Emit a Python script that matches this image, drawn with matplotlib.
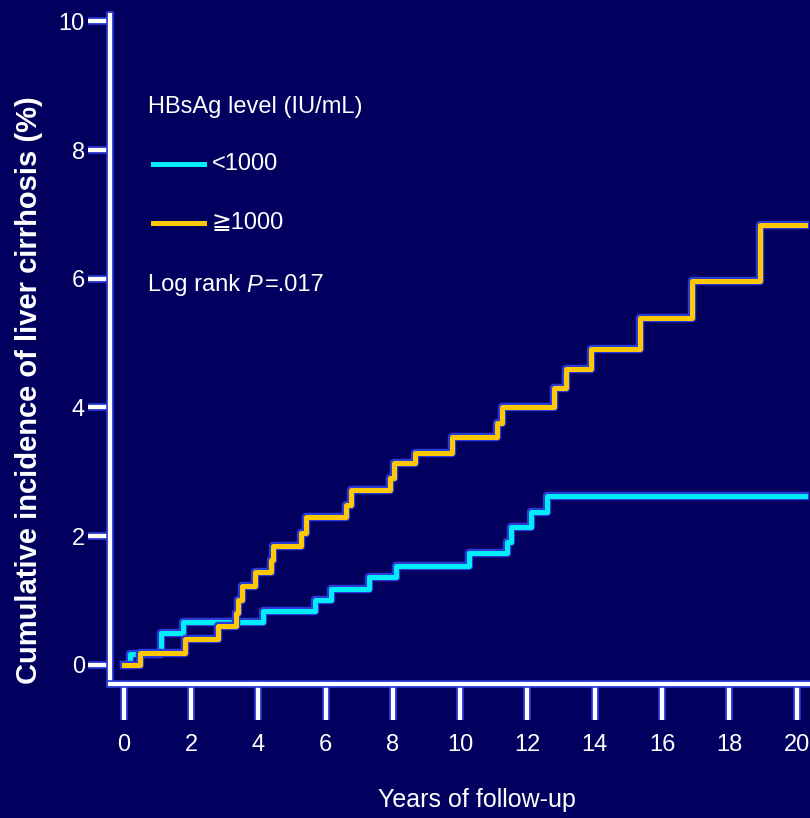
import matplotlib
matplotlib.use("Agg")
import matplotlib.pyplot as plt
import matplotlib.patheffects as pe
from matplotlib import font_manager
from matplotlib.lines import Line2D

# Cumulative incidence (%) of liver cirrhosis by HBsAg level
low_years = [0, 0.18, 1.12, 1.75, 4.13, 5.67, 6.16, 7.3, 8.09, 10.27, 11.4, 11.5, 12.1, 12.58, 20.25]
low_pct = [0, 0.16, 0.50, 0.66, 0.84, 1.01, 1.18, 1.36, 1.54, 1.73, 1.90, 2.14, 2.37, 2.63, 2.63]

high_years = [0, 0.47, 1.81, 2.79, 3.34, 3.4, 3.5, 3.89, 4.38, 4.45, 5.27, 5.42, 6.6, 6.76,
              7.9, 8.04, 8.66, 9.76, 11.1, 11.25, 12.79, 13.14, 13.9, 15.36, 16.88, 18.92, 20.25]
high_pct = [0, 0.18, 0.40, 0.60, 0.80, 1.00, 1.23, 1.44, 1.62, 1.85, 2.04, 2.29, 2.48, 2.71,
            2.90, 3.13, 3.29, 3.54, 3.75, 4.01, 4.30, 4.59, 4.91, 5.39, 5.97, 6.84, 6.84]

x_ticks = list(range(0, 21, 2))
y_ticks = list(range(0, 11, 2))
group_labels = ["<1000", "\u22671000"]

BG = "#01005f"
GLOW = "#2b3bd6"
CYAN = "#00eef8"
GOLD = "#ffc800"

installed = {f.name for f in font_manager.fontManager.ttflist}
narrow = "Liberation Sans Narrow" if "Liberation Sans Narrow" in installed else "Liberation Sans"
NARROW = [narrow, "DejaVu Sans"]
LEG_FS = 17

fig = plt.figure(figsize=(8.1, 8.18), dpi=100, facecolor=BG)
ax = fig.add_axes([110 / 810, 1 - 684 / 818, 1 - 110 / 810, (684 - 15) / 818])
ax.set_facecolor(BG)

glow = lambda w: [pe.Stroke(linewidth=w + 2.5, foreground=GLOW), pe.Normal()]

ax.step(low_years, low_pct, where="post", color=CYAN, lw=3.6, path_effects=glow(3.6), zorder=3)
ax.step(high_years, high_pct, where="post", color=GOLD, lw=3.6, path_effects=glow(3.6), zorder=4)

ax.set_xlim(-0.41, 20.4)
ax.set_ylim(-0.3, 10.1)

for side in ("top", "right"):
    ax.spines[side].set_visible(False)
for side in ("left", "bottom"):
    ax.spines[side].set_color("white")
    ax.spines[side].set_linewidth(3)
    ax.spines[side].set_path_effects(glow(3))

ax.set_xticks(x_ticks)
ax.set_yticks(y_ticks)
ax.tick_params(axis="x", direction="out", length=26, width=3, color="white", pad=10,
               labelsize=17, labelcolor="white")
ax.tick_params(axis="y", direction="out", length=16, width=3, color="white", pad=2,
               labelsize=17, labelcolor="white")
for lab in ax.get_xticklabels() + ax.get_yticklabels():
    lab.set_family(NARROW)
for t in ax.xaxis.get_major_ticks() + ax.yaxis.get_major_ticks():
    t.tick1line.set_path_effects(glow(3))

fig.text(477 / 810, 1 - 800 / 818, "Years of follow-up", color="white", fontsize=18,
         family=NARROW, ha="center", va="center")
fig.text(29 / 810, 1 - 390 / 818, "Cumulative incidence of liver cirrhosis (%)", color="white",
         fontsize=21, fontweight="bold", family=["Liberation Sans", "DejaVu Sans"],
         rotation=90, ha="center", va="center")

# legend block
fig.text(148 / 810, 1 - 107 / 818, "HBsAg level (IU/mL)", color="white", fontsize=LEG_FS,
         family=NARROW, va="center")
for color, label, ypx in zip([CYAN, GOLD], group_labels, [164, 223]):
    fig.add_artist(Line2D([153 / 810, 204 / 810], [1 - ypx / 818] * 2, color=color, lw=3.6,
                          transform=fig.transFigure))
    fig.text(212 / 810, 1 - ypx / 818, label, color="white", fontsize=LEG_FS, family=NARROW,
             va="center")

renderer = fig.canvas.get_renderer()
ypos = 1 - 285 / 818
t1 = fig.text(148 / 810, ypos, "Log rank ", color="white", fontsize=LEG_FS, family=NARROW, va="center")
x1 = t1.get_window_extent(renderer).x1 / fig.bbox.width
t2 = fig.text(x1, ypos, "P", color="white", fontsize=LEG_FS, family=NARROW, style="italic", va="center")
x2 = t2.get_window_extent(renderer).x1 / fig.bbox.width
fig.text(x2 + 2 / 810, ypos, "=.017", color="white", fontsize=LEG_FS, family=NARROW, va="center")

fig.savefig("out.png", dpi=100, facecolor=BG)
